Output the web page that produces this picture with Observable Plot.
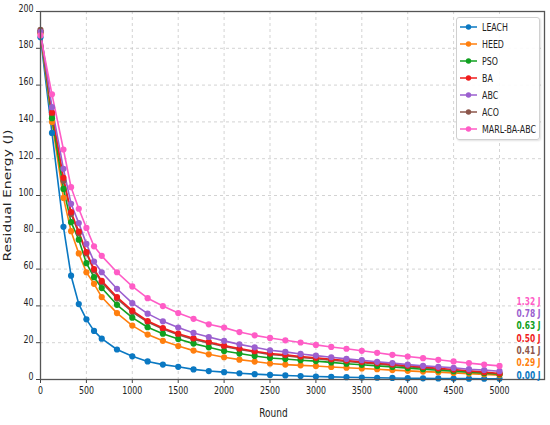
<!DOCTYPE html>
<html>
<head>
<meta charset="utf-8">
<script src="https://cdn.jsdelivr.net/npm/d3@7"></script>
<script src="https://cdn.jsdelivr.net/npm/@observablehq/plot@0.6"></script>
<style>
  body { margin: 0; background: #fff; font-family: "DejaVu Sans", sans-serif; }
  #wrap { position: relative; width: 550px; height: 425px; }
  #legend { position: absolute; left: 456px; top: 17px; width: 84px; height: 123px;
    border: 1px solid #d0d0d0; border-radius: 3px; background: rgba(255,255,255,0.9);
    box-shadow: 1px 1px 2px rgba(0,0,0,0.12); box-sizing: border-box; }
  .item { position: absolute; left: 0; height: 14px; display: flex; align-items: center; font-size: 10.5px; color: #222; white-space: nowrap; }
  .item svg { margin-left: 3px; margin-right: 5px; flex: none; }
  .item span { display: inline-block; transform: scaleX(0.75); transform-origin: left center; }
</style>
</head>
<body>
<div id="wrap"><div id="chart"></div><div id="legend"></div></div>
<script>
const rounds = [0,125,250,333,417,500,583,667,833,1000,1167,1333,1500,1667,1833,2000,2167,2333,2500,2667,2833,3000,3167,3333,3500,3667,3833,4000,4167,4333,4500,4667,4833,5000];
const LEACH = [186,134,83,56.4,41,32.7,26.4,22.2,16.3,12.6,9.8,8.1,6.9,5.5,4.6,4.0,3.4,2.9,2.5,2.2,1.9,1.6,1.4,1.25,1.1,0.95,0.85,0.7,0.65,0.58,0.5,0.45,0.42,0.4];
const HEED = [188,140,98.7,80.6,68.5,58.3,52,44.8,36.1,29.3,24.4,21,18.2,15.7,13.7,12.1,10.8,9.75,8.7,8.1,7.7,7.3,6.8,6.4,6.0,5.6,5.1,4.7,4.3,4.0,3.6,3.2,2.8,2.4];
const PSO = [189,142,103.6,85.5,76,63.2,55.6,49.7,40.6,33.6,28.4,24.9,22,19.5,17.5,15.5,14.1,12.8,11.7,11.1,10.5,10.0,9.3,8.6,8.0,7.4,6.8,6.2,5.6,5.0,4.5,4.0,3.4,2.9];
const BA = [189,145,109.6,91,80.4,69.2,60,53.6,44.8,37.4,31.8,28,24.9,22.4,20.4,18.4,16.8,15.4,14.1,13.4,12.5,11.8,11.0,10.3,9.6,8.9,8.2,7.5,6.8,6.1,5.4,4.7,4.0,3.3];
const ABC = [189,148,114.5,95.5,85,73.7,64.1,58.3,49.3,41.5,35.8,31.6,28.2,25.3,23.1,21,19.1,17.5,15.9,15,13.9,13,12.1,11.2,10.5,9.6,8.9,8.1,7.4,6.9,6.3,5.6,5.1,4.5];
const ACO = [190,144,108,90,79.5,68.5,59.3,52.8,44,36.7,31.2,27.4,24.3,21.8,19.8,17.9,16.3,14.9,13.6,12.9,12.0,11.3,10.5,9.8,9.1,8.4,7.7,7.0,6.3,5.6,4.9,4.2,3.6,3.0];
const MARL = [187,155,125,104.5,92.8,82.4,72.4,67.2,58.3,50.6,44.2,39.9,36.1,33,30,28.2,25.8,24,22.6,21.3,20.1,18.8,17.7,16.7,15.6,14.5,13.4,12.5,11.6,10.7,9.8,8.9,8.1,7.4];

const seriesNames = ["LEACH","HEED","PSO","BA","ABC","ACO","MARL-BA-ABC"];
const seriesColors = ["#0a78c2","#ff7f0e","#10a020","#f01c1c","#9b5fcf","#8c564b","#ff5cc6"];
const drawOrder = ["ACO","LEACH","HEED","PSO","BA","ABC","MARL-BA-ABC"];
const seriesValues = {"LEACH": LEACH, "HEED": HEED, "PSO": PSO, "BA": BA, "ABC": ABC, "ACO": ACO, "MARL-BA-ABC": MARL};

const endLabels = ["0.00 J","0.29 J","0.41 J","0.50 J","0.63 J","0.78 J","1.32 J"];
const endLabelSeries = ["LEACH","HEED","ACO","BA","PSO","ABC","MARL-BA-ABC"];
const xTicks = [0,500,1000,1500,2000,2500,3000,3500,4000,4500,5000];
const yTicks = [0,20,40,60,80,100,120,140,160,180,200];

const table = [];
for (const s of drawOrder) {
  seriesValues[s].forEach((v, i) => table.push({series: s, round: rounds[i], energy: v}));
}
const colorOf = s => seriesColors[seriesNames.indexOf(s)];

const marks = [
  Plot.gridX(xTicks, {stroke: "#c8c8c8", strokeOpacity: 1, strokeDasharray: "3,3", strokeWidth: 0.8}),
  Plot.gridY(yTicks, {stroke: "#c8c8c8", strokeOpacity: 1, strokeDasharray: "3,3", strokeWidth: 0.8}),
  Plot.line(table, {x: "round", y: "energy", z: "series", stroke: "series", strokeWidth: 1.6}),
  Plot.dot(table, {x: "round", y: "energy", fill: "series", r: 3.1}),
  Plot.axisX(xTicks, {tickSize: 4, tickPadding: 10, fontSize: 10.5, label: null, stroke: "#444", tickFormat: d => String(d)}),
  Plot.axisY(yTicks, {tickSize: 4, tickPadding: 3, fontSize: 10.5, label: null, stroke: "#444", tickFormat: d => String(d)}),
  Plot.frame({stroke: "#555", strokeWidth: 1.3}),
  Plot.text(["Residual Energy (J)"], {frameAnchor: "left", rotate: -90, dx: -30, textAnchor: "middle", lineAnchor: "middle", fontSize: 14, fill: "#222"}),
  Plot.text(["Round"], {frameAnchor: "bottom", dy: 37, dx: -19, textAnchor: "middle", lineAnchor: "middle", fontSize: 12, fill: "#222"})
];
endLabels.forEach((t, i) => {
  marks.push(Plot.text([t], {frameAnchor: "bottom-right", textAnchor: "end", lineAnchor: "bottom", dx: -4, dy: -1 - i * 12.3,
    fill: colorOf(endLabelSeries[i]), fontWeight: "bold", fontSize: 10}));
});

const chart = Plot.plot({
  width: 550, height: 425,
  marginTop: 11, marginRight: 6, marginBottom: 46, marginLeft: 40,
  style: {fontFamily: "DejaVu Sans, sans-serif", fontSize: "10px", color: "#222", background: "#fff"},
  x: {domain: [0, 5490]},
  y: {domain: [0, 200]},
  color: {domain: seriesNames, range: seriesColors},
  marks
});
document.getElementById("chart").appendChild(chart);

// The reference picture is horizontally compressed: narrow every text around its anchor.
d3.select(chart).selectAll("text").each(function () {
  const el = d3.select(this);
  const t = el.attr("transform") || "";
  const x = +el.attr("x") || 0, y = +el.attr("y") || 0;
  el.attr("x", null).attr("y", null);
  const rotated = /rotate/.test(t);
  el.attr("transform", `${t} translate(${x},${y}) ${rotated ? "scale(1,0.75)" : "scale(0.75,1)"}`);
});

const legend = document.getElementById("legend");
seriesNames.forEach((s, i) => {
  const div = document.createElement("div");
  div.className = "item";
  div.style.top = (2 + i * 17) + "px";
  const c = colorOf(s);
  div.innerHTML = `<svg width="17" height="8"><line x1="0" y1="4" x2="17" y2="4" stroke="${c}" stroke-width="1.5"/><circle cx="8.5" cy="4" r="2.7" fill="${c}"/></svg><span>${s}</span>`;
  legend.appendChild(div);
});
</script>
</body>
</html>
